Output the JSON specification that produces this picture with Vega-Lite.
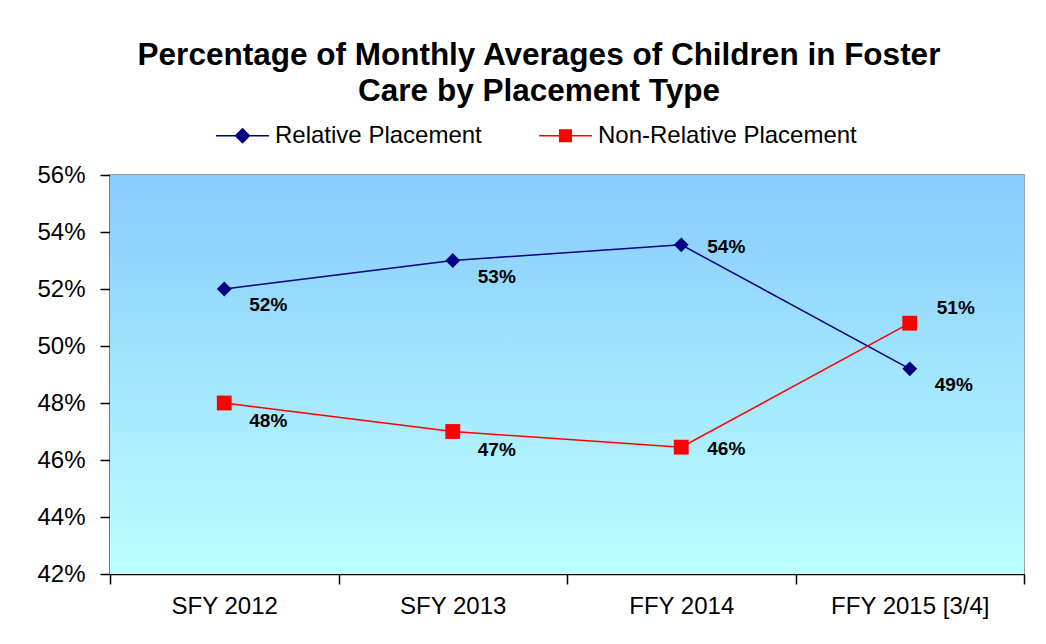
{
  "$schema": "https://vega.github.io/schema/vega-lite/v6.json",
  "width": 914,
  "height": 399,
  "autosize": {"type": "none"},
  "padding": {"left": 110, "top": 175, "right": 22, "bottom": 70},
  "background": "white",
  "title": {
    "text": ["Percentage of Monthly Averages of Children in Foster", "Care by Placement Type"],
    "font": "Liberation Sans",
    "fontSize": 31.5,
    "fontWeight": "bold",
    "color": "black",
    "anchor": "middle",
    "dx": -28,
    "lineHeight": 36,
    "offset": 1
  },
  "datasets": {
    "main": [
      {"year": "SFY 2012", "series": "Relative Placement", "pct": 52.0},
      {"year": "SFY 2013", "series": "Relative Placement", "pct": 53.0},
      {"year": "FFY 2014", "series": "Relative Placement", "pct": 53.55},
      {"year": "FFY 2015 [3/4]", "series": "Relative Placement", "pct": 49.2},
      {"year": "SFY 2012", "series": "Non-Relative Placement", "pct": 48.0},
      {"year": "SFY 2013", "series": "Non-Relative Placement", "pct": 47.0},
      {"year": "FFY 2014", "series": "Non-Relative Placement", "pct": 46.45},
      {"year": "FFY 2015 [3/4]", "series": "Non-Relative Placement", "pct": 50.8}
    ]
  },
  "config": {
    "view": {"stroke": "#808080", "strokeWidth": 1.5},
    "axis": {
      "domainColor": "black",
      "domainWidth": 1.5,
      "tickColor": "black",
      "tickWidth": 1.5,
      "labelFont": "Liberation Sans",
      "labelFontSize": 24,
      "labelColor": "black",
      "grid": false,
      "title": null
    }
  },
  "layer": [
    {
      "data": {"values": [{}]},
      "mark": {
        "type": "rect",
        "fill": {
          "gradient": "linear",
          "x1": 0, "y1": 0, "x2": 0, "y2": 1,
          "stops": [
            {"offset": 0, "color": "#86CBFD"},
            {"offset": 1, "color": "#BEFFFF"}
          ]
        }
      },
      "encoding": {}
    },
    {
      "data": {"name": "main"},
      "mark": {"type": "line", "strokeWidth": 1.5},
      "encoding": {
        "x": {
          "field": "year", "type": "nominal",
          "sort": ["SFY 2012", "SFY 2013", "FFY 2014", "FFY 2015 [3/4]"],
          "scale": {"type": "band", "paddingInner": 0, "paddingOuter": 0},
          "axis": {"labelAngle": 0, "tickBand": "extent", "tickSize": 10, "labelPadding": 10}
        },
        "y": {
          "field": "pct", "type": "quantitative",
          "scale": {"domain": [42, 56], "nice": false, "zero": false},
          "axis": {"values": [42, 44, 46, 48, 50, 52, 54, 56], "labelExpr": "datum.value + '%'", "tickSize": 10, "labelPadding": 15}
        },
        "color": {
          "field": "series", "type": "nominal",
          "scale": {"domain": ["Relative Placement", "Non-Relative Placement"], "range": ["#000080", "#FF0000"]},
          "legend": {
            "title": null,
            "orient": "none",
            "legendX": 105,
            "legendY": -67,
            "direction": "horizontal",
            "symbolSize": 2800,
            "symbolStrokeWidth": 1.5,
            "labelFont": "Liberation Sans",
            "labelFontSize": 24,
            "labelColor": "black",
            "labelOffset": 5,
            "labelLimit": 400,
            "columnPadding": 54,
            "encode": {
              "symbols": {
                "update": {
                  "shape": {"signal": "datum.value == 'Relative Placement' ? 'M-1,0H1M0,-0.26L0.26,0L0,0.26L-0.26,0Z' : 'M-1,0H1M-0.22,-0.22H0.22V0.22H-0.22Z'"},
                  "fill": {"signal": "scale('color', datum.value)"},
                  "stroke": {"signal": "scale('color', datum.value)"},
                  "strokeWidth": {"value": 1.5},
                  "opacity": {"value": 1}
                }
              }
            }
          }
        }
      }
    },
    {
      "data": {"name": "main"},
      "transform": [{"filter": "datum.series == 'Relative Placement'"}],
      "mark": {"type": "point", "filled": true, "opacity": 1, "size": 220, "shape": "diamond"},
      "encoding": {
        "x": {"field": "year", "type": "nominal", "sort": ["SFY 2012", "SFY 2013", "FFY 2014", "FFY 2015 [3/4]"]},
        "y": {"field": "pct", "type": "quantitative"},
        "color": {"field": "series", "type": "nominal"}
      }
    },
    {
      "data": {"name": "main"},
      "transform": [{"filter": "datum.series == 'Non-Relative Placement'"}],
      "mark": {"type": "point", "filled": true, "opacity": 1, "size": 220, "shape": "square"},
      "encoding": {
        "x": {"field": "year", "type": "nominal", "sort": ["SFY 2012", "SFY 2013", "FFY 2014", "FFY 2015 [3/4]"]},
        "y": {"field": "pct", "type": "quantitative"},
        "color": {"field": "series", "type": "nominal"}
      }
    },
    {
      "data": {"name": "main"},
      "transform": [
        {"filter": "datum.year != 'FFY 2014' && datum.series == 'Relative Placement'"},
        {"calculate": "format(datum.pct, '.0f') + '%'", "as": "label"}
      ],
      "mark": {"type": "text", "align": "left", "baseline": "middle", "dx": 25, "dy": 16, "font": "Liberation Sans", "fontSize": 19, "fontWeight": "bold", "color": "black"},
      "encoding": {
        "x": {"field": "year", "type": "nominal", "sort": ["SFY 2012", "SFY 2013", "FFY 2014", "FFY 2015 [3/4]"]},
        "y": {"field": "pct", "type": "quantitative"},
        "text": {"field": "label"}
      }
    },
    {
      "data": {"name": "main"},
      "transform": [
        {"filter": "datum.year != 'FFY 2014' && datum.year != 'FFY 2015 [3/4]' && datum.series == 'Non-Relative Placement'"},
        {"calculate": "format(datum.pct, '.0f') + '%'", "as": "label"}
      ],
      "mark": {"type": "text", "align": "left", "baseline": "middle", "dx": 25, "dy": 18, "font": "Liberation Sans", "fontSize": 19, "fontWeight": "bold", "color": "black"},
      "encoding": {
        "x": {"field": "year", "type": "nominal", "sort": ["SFY 2012", "SFY 2013", "FFY 2014", "FFY 2015 [3/4]"]},
        "y": {"field": "pct", "type": "quantitative"},
        "text": {"field": "label"}
      }
    },
    {
      "data": {"name": "main"},
      "transform": [
        {"filter": "datum.year == 'FFY 2014'"},
        {"calculate": "format(datum.pct, '.0f') + '%'", "as": "label"}
      ],
      "mark": {"type": "text", "align": "left", "baseline": "middle", "dx": 26, "dy": 2, "font": "Liberation Sans", "fontSize": 19, "fontWeight": "bold", "color": "black"},
      "encoding": {
        "x": {"field": "year", "type": "nominal", "sort": ["SFY 2012", "SFY 2013", "FFY 2014", "FFY 2015 [3/4]"]},
        "y": {"field": "pct", "type": "quantitative"},
        "text": {"field": "label"}
      }
    },
    {
      "data": {"name": "main"},
      "transform": [
        {"filter": "datum.year == 'FFY 2015 [3/4]' && datum.series == 'Non-Relative Placement'"},
        {"calculate": "format(datum.pct, '.0f') + '%'", "as": "label"}
      ],
      "mark": {"type": "text", "align": "left", "baseline": "middle", "dx": 27, "dy": -15, "font": "Liberation Sans", "fontSize": 19, "fontWeight": "bold", "color": "black"},
      "encoding": {
        "x": {"field": "year", "type": "nominal", "sort": ["SFY 2012", "SFY 2013", "FFY 2014", "FFY 2015 [3/4]"]},
        "y": {"field": "pct", "type": "quantitative"},
        "text": {"field": "label"}
      }
    }
  ]
}
